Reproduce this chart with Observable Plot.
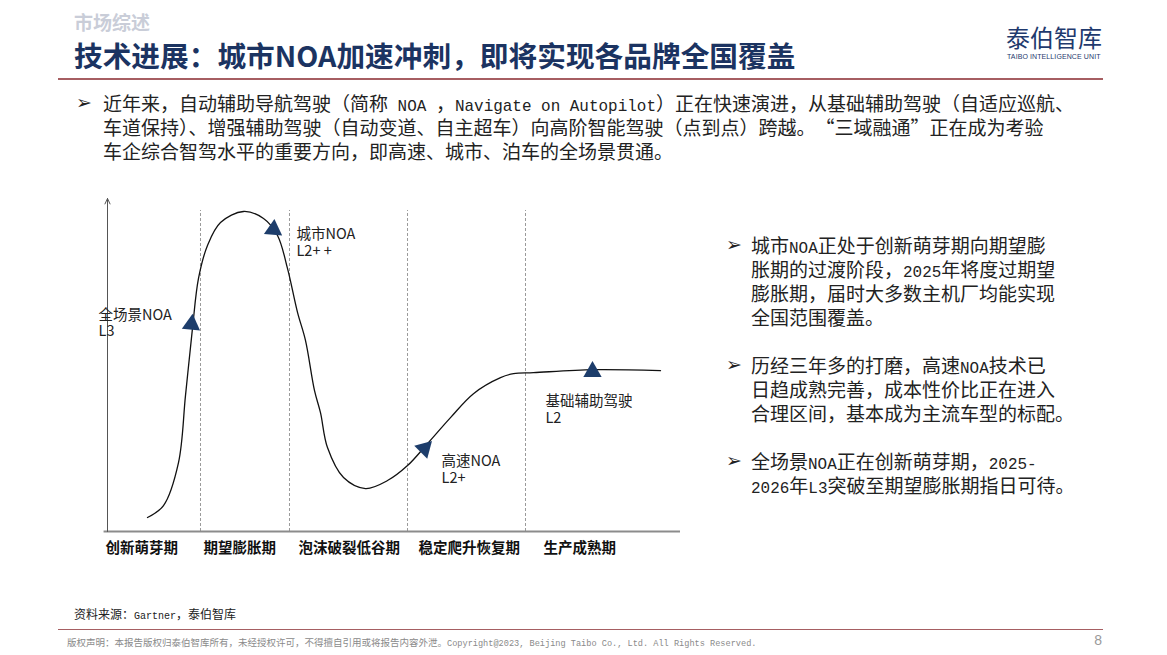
<!DOCTYPE html>
<html><head><meta charset="utf-8">
<script src="https://cdn.jsdelivr.net/npm/d3@7"></script>
<script src="https://cdn.jsdelivr.net/npm/@observablehq/plot@0.6"></script>
<style>
body{margin:0;width:1167px;height:655px;position:relative;background:#fff;font-family:"Noto Sans CJK SC",sans-serif;overflow:hidden}
.abs{position:absolute;white-space:nowrap}
.m{font-family:"Liberation Mono",monospace;font-size:0.84em;line-height:1}
.q{display:inline-block;width:1em;line-height:1}
.txt{font-size:19px;color:#222}
.txt div{height:24px;line-height:24px;white-space:nowrap}
.arr{font-family:"DejaVu Sans",sans-serif;font-size:19px;color:#222;line-height:22px}
#chart{position:absolute;left:90px;top:185px}
</style></head><body>
<div class="abs" style="left:74px;top:11px;font-size:19px;font-weight:bold;color:#c9cdd8;line-height:22px">市场综述</div>
<div class="abs" style="left:74px;top:40px;font-size:28.7px;font-weight:bold;color:#1b3361;line-height:30px">技术进展：城市NOA加速冲刺，即将实现各品牌全国覆盖</div>
<div class="abs" style="left:58px;top:78px;width:1045px;height:2px;background:#a65e62"></div>
<div class="abs" style="left:1006px;top:24px;font-size:24px;line-height:26px;color:#1f3a6e">泰伯智库</div>
<div class="abs" style="left:1007px;top:52px;font-size:7px;line-height:9px;color:#1f3a6e;letter-spacing:0.1px;font-family:'Liberation Sans',sans-serif">TAIBO INTELLIGENCE UNIT</div>

<div class="abs arr" style="left:76px;top:91px">➢</div>
<div class="abs txt" style="left:103px;top:91px">
<div>近年来，自动辅助导航驾驶（简称<span class="m"> NOA </span>，<span class="m">Navigate on Autopilot</span>）正在快速演进，从基础辅助驾驶（自适应巡航、</div>
<div>车道保持）、增强辅助驾驶（自动变道、自主超车）向高阶智能驾驶（点到点）跨越。<span class="q" style="text-align:right">“</span>三域融通<span class="q" style="text-align:left">”</span>正在成为考验</div>
<div>车企综合智驾水平的重要方向，即高速、城市、泊车的全场景贯通。</div>
</div>

<div class="abs arr" style="left:726px;top:233px">➢</div>
<div class="abs arr" style="left:726px;top:353px">➢</div>
<div class="abs arr" style="left:726px;top:449px">➢</div>
<div class="abs txt" style="left:751px;top:233px">
<div>城市<span class="m">NOA</span>正处于创新萌芽期向期望膨</div>
<div>胀期的过渡阶段，<span class="m">2025</span>年将度过期望</div>
<div>膨胀期，届时大多数主机厂均能实现</div>
<div>全国范围覆盖。</div>
<div></div>
<div>历经三年多的打磨，高速<span class="m">NOA</span>技术已</div>
<div>日趋成熟完善，成本性价比正在进入</div>
<div>合理区间，基本成为主流车型的标配。</div>
<div></div>
<div>全场景<span class="m">NOA</span>正在创新萌芽期，<span class="m">2025-</span></div>
<div><span class="m">2026</span>年<span class="m">L3</span>突破至期望膨胀期指日可待。</div>
</div>

<div id="chart"></div>

<div class="abs" style="left:74px;top:606px;font-size:12px;line-height:16px;color:#222">资料来源：<span class="m" style="font-size:10px">Gartner</span>，泰伯智库</div>
<div class="abs" style="left:58px;top:629px;width:1045px;height:1px;background:#a65e62"></div>
<div class="abs" style="left:67px;top:636px;font-size:9.5px;line-height:12px;color:#8a8a8a">版权声明：本报告版权归泰伯智库所有，未经授权许可，不得擅自引用或将报告内容外泄。<span class="m" style="font-size:8.6px">Copyright@2023, Beijing Taibo Co.,  Ltd. All Rights Reserved.</span></div>
<div class="abs" style="left:1088px;top:631px;width:14px;text-align:right;font-size:14px;line-height:18px;color:#9a9a9a;font-family:'Liberation Sans',sans-serif">8</div>

<script>
// Hype-cycle curve (x: time, y: expectations)
const curveX = [6.98, 9.77, 12.39, 13.61, 14.83, 15.88, 17.45, 19.72, 23.73, 27.23, 29.67, 31.41, 33.16, 34.55, 36.13, 37.17, 38.39, 41.19, 45.03, 48.87, 52.36, 55.85, 59.86, 63.87, 68.59, 70.86, 74.35, 84.82, 96.51];
const curveY = [4.2, 7.8, 20.7, 40.8, 61.0, 76.0, 85.9, 92.8, 96.1, 94.0, 88.9, 79.0, 65.8, 57.4, 42.3, 35.7, 25.2, 16.2, 12.9, 15.3, 19.8, 26.4, 34.2, 41.4, 46.2, 47.4, 47.7, 48.6, 48.3];

// Phases
const phaseNames = ["创新萌芽期", "期望膨胀期", "泡沫破裂低谷期", "稳定爬升恢复期", "生产成熟期"];
const phaseLabelX = [-0.35, 16.75, 33.33, 54.28, 76.09];
const phaseBoundaryX = [16.23, 31.76, 52.36, 72.95];

// Technologies on the curve
const techNames = ["全场景NOA", "城市NOA", "高速NOA", "基础辅助驾驶"];
const techLevels = ["L3", "L2+ +", "L2+", "L2"];
const techX = [14.66, 28.97, 55.32, 84.64];
const techY = [62.2, 90.7, 24.9, 48.0];
const techRotate = [6, 5, 45, 0];
const techLabelX = [-1.57, 32.98, 58.29, 76.44];
const techNameY = [65.0, 89.3, 21.0, 39.0];
const techLevelY = [60.1, 84.1, 15.9, 33.9];

const curve = curveX.map((x, i) => ({x, y: curveY[i]}));
const techs = techNames.map((name, i) => ({name, level: techLevels[i], x: techX[i], y: techY[i], rot: techRotate[i], lx: techLabelX[i], ny: techNameY[i], ly: techLevelY[i]}));
const phases = phaseNames.map((name, i) => ({name, x: phaseLabelX[i]}));

const chart = Plot.plot({
  width: 610, height: 380,
  marginLeft: 17, marginRight: 20, marginTop: 13, marginBottom: 34,
  x: {domain: [0, 100], axis: null},
  y: {domain: [0, 100], axis: null},
  style: {fontFamily: "Noto Sans CJK SC, sans-serif", overflow: "visible", background: "transparent"},
  marks: [
    Plot.ruleX(phaseBoundaryX, {y1: 0, y2: 96.4, stroke: "#9a9a9a", strokeWidth: 1, strokeDasharray: "3,2"}),
    Plot.ruleY([0], {x1: -0.6, x2: 100, stroke: "#8c8c8c", strokeWidth: 1.8}),
    Plot.arrow([{x1: 0, y1: 0, x2: 0, y2: 100}], {x1: "x1", y1: "y1", x2: "x2", y2: "y2", stroke: "#555", strokeWidth: 1, headLength: 9, headAngle: 50}),
    Plot.line(curve, {x: "x", y: "y", curve: "catmull-rom", stroke: "#111", strokeWidth: 1.3}),
    Plot.dot(techs, {x: "x", y: "y", symbol: "triangle", r: 6.8, fill: "#1d3d6b", rotate: "rot"}),
    Plot.text(techs, {x: "lx", y: "ny", text: "name", textAnchor: "start", fontSize: 14.5, fill: "#222"}),
    Plot.text(techs, {x: "lx", y: "ly", text: "level", textAnchor: "start", fontSize: 14.5, fill: "#222"}),
    Plot.text(phases, {x: "x", y: -5.1, text: "name", textAnchor: "start", fontWeight: "bold", fontSize: 14.5, fill: "#111"})
  ]
});
document.getElementById("chart").appendChild(chart);
</script>
</body></html>
